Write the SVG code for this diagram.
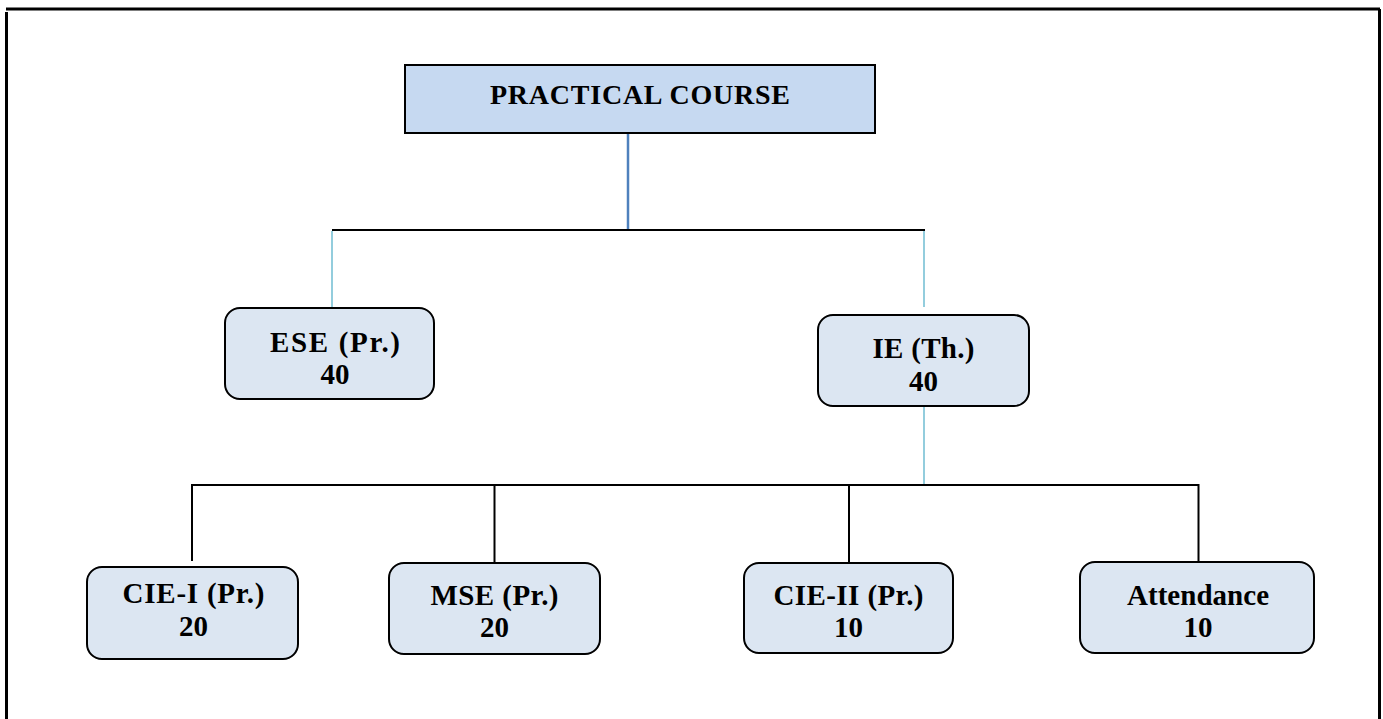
<svg xmlns="http://www.w3.org/2000/svg" width="1383" height="719" viewBox="0 0 1383 719">
<style>
.t{font-family:"Liberation Serif","Times New Roman",serif;font-weight:bold;fill:#000;text-anchor:middle}
.n{font-size:29px}
.box{fill:#dce6f2;stroke:#000;stroke-width:2}
.k{stroke:#000;stroke-width:2;fill:none}
.lb{stroke:#93cddd;stroke-width:2;fill:none}
</style>
<rect width="1383" height="719" fill="#fff"/>
<g id="frame" fill="none" stroke="#000" stroke-width="3">
<line x1="6" y1="9" x2="1380" y2="9"/>
<line x1="6.5" y1="12" x2="6.5" y2="719"/>
<line x1="1379.5" y1="9" x2="1379.5" y2="719"/>
</g>
<g id="connectors">
<line x1="628" y1="133" x2="628" y2="229" stroke="#4f81bd" stroke-width="2.5"/>
<line class="k" x1="332" y1="230" x2="925" y2="230"/>
<line class="lb" x1="332" y1="231" x2="332" y2="307"/>
<line class="lb" x1="924" y1="231" x2="924" y2="307"/>
<line class="lb" x1="924" y1="407" x2="924" y2="484"/>
<line class="k" x1="192" y1="485" x2="1199" y2="485"/>
<line class="k" x1="192" y1="484" x2="192" y2="561"/>
<line class="k" x1="494.5" y1="485" x2="494.5" y2="562"/>
<line class="k" x1="849" y1="485" x2="849" y2="562"/>
<line class="k" x1="1198.5" y1="484" x2="1198.5" y2="562"/>
</g>
<g id="practical-course">
<rect x="405" y="65" width="470" height="68" fill="#c6d9f1" stroke="#000" stroke-width="2"/>
<text class="t" x="640" y="104" font-size="28" textLength="300">PRACTICAL COURSE</text>
</g>
<g id="ese">
<rect class="box" x="225" y="308" width="209" height="91" rx="15"/>
<text class="t n" x="335" y="352" textLength="130">ESE (Pr.)</text>
<text class="t n" x="335" y="384">40</text>
</g>
<g id="ie">
<rect class="box" x="818" y="315" width="211" height="91" rx="15"/>
<text class="t n" x="923.5" y="358" textLength="102">IE (Th.)</text>
<text class="t n" x="923.5" y="391">40</text>
</g>
<g id="cie1">
<rect class="box" x="87" y="567" width="211" height="92" rx="15"/>
<text class="t n" x="193.5" y="603" textLength="142">CIE-I (Pr.)</text>
<text class="t n" x="193.5" y="636">20</text>
</g>
<g id="mse">
<rect class="box" x="389" y="563" width="211" height="91" rx="15"/>
<text class="t n" x="494.5" y="605" textLength="128">MSE (Pr.)</text>
<text class="t n" x="494.5" y="637">20</text>
</g>
<g id="cie2">
<rect class="box" x="744" y="563" width="209" height="90" rx="15"/>
<text class="t n" x="848.5" y="605" textLength="150">CIE-II (Pr.)</text>
<text class="t n" x="848.5" y="637">10</text>
</g>
<g id="attendance">
<rect class="box" x="1080" y="562" width="234" height="91" rx="15"/>
<text class="t n" x="1198" y="605" textLength="142">Attendance</text>
<text class="t n" x="1198" y="637">10</text>
</g>
</svg>
